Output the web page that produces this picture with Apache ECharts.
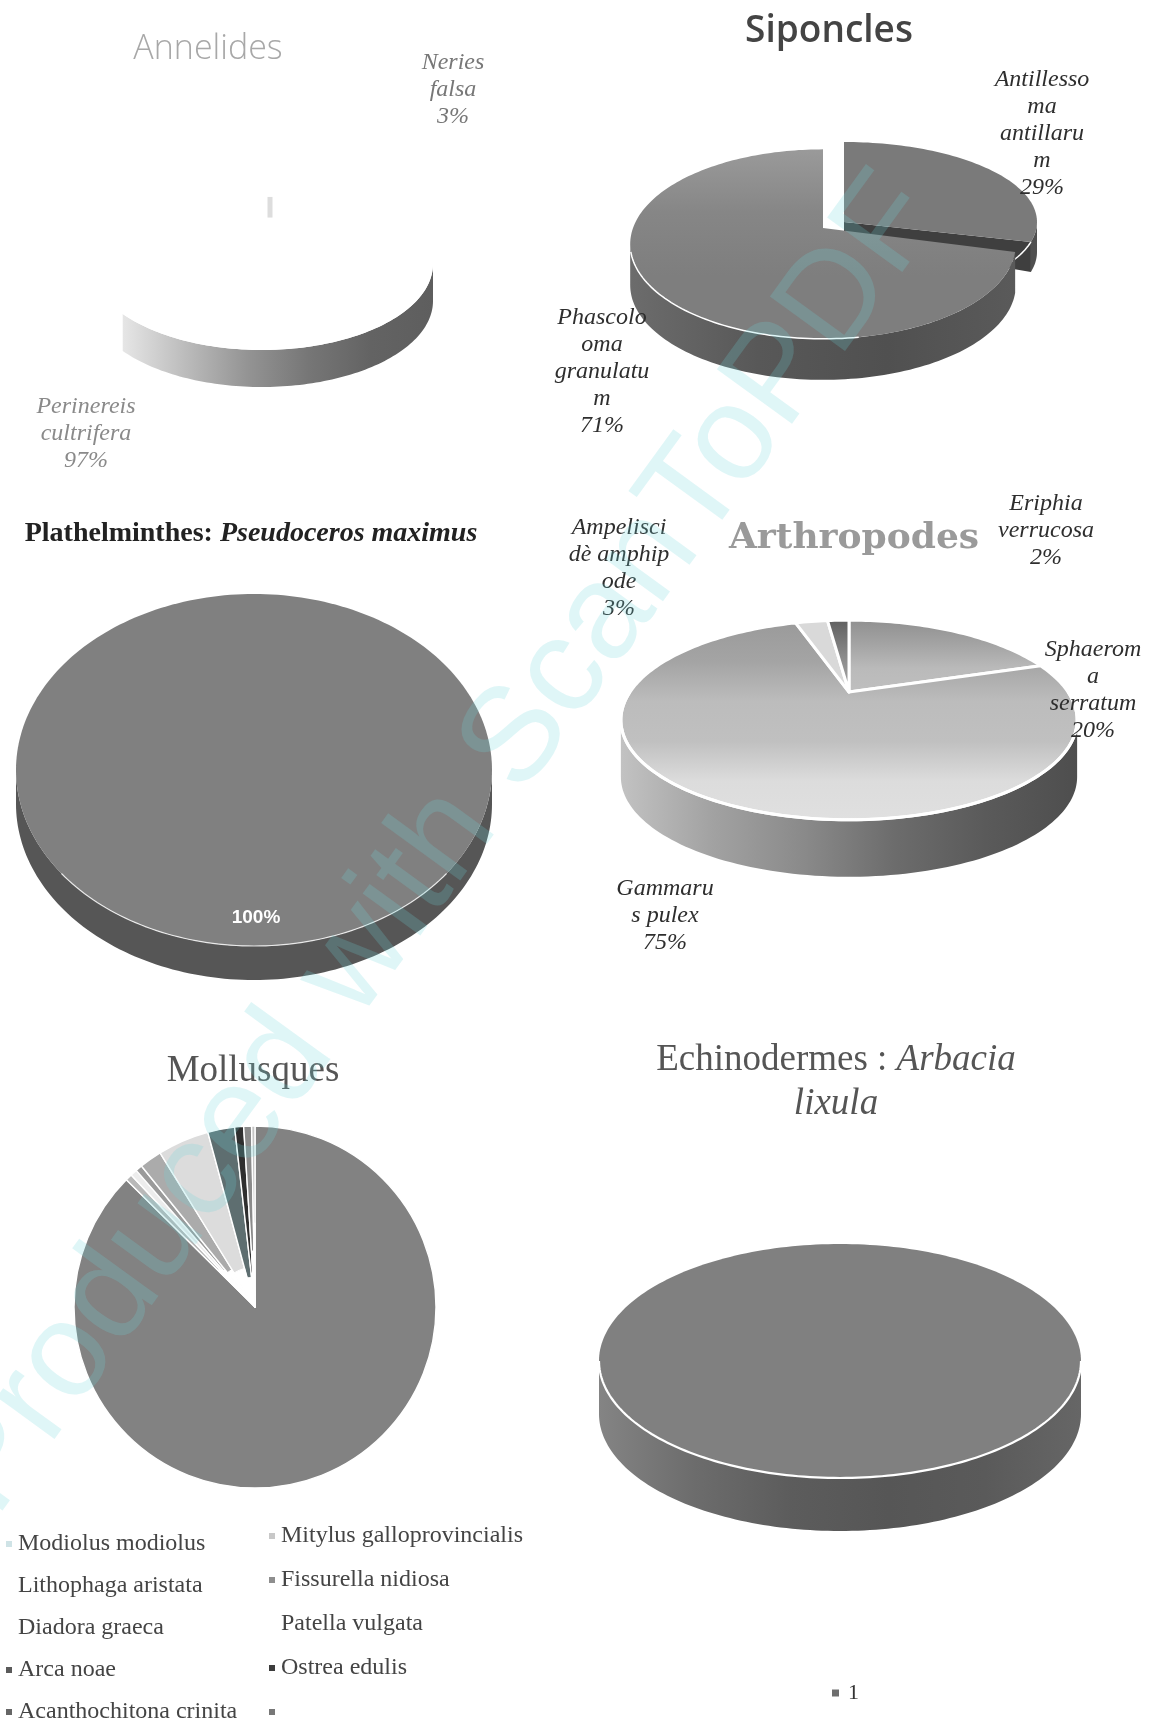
<!DOCTYPE html>
<html>
<head>
<meta charset="utf-8">
<title>Répartition des espèces par embranchement</title>
<style>html,body{margin:0;padding:0;background:#fff}#main{width:1160px;height:1725px}</style>
<script src="https://cdn.jsdelivr.net/npm/echarts@6/dist/echarts.min.js"></script>
</head>
<body>
<div id="main"></div>
<script>
// Species shares per phylum, in percent.
const annelidNames = ['Neries\nfalsa', 'Perinereis\ncultrifera'];
const annelidShares = [3, 97];
const sipunculidNames = ['Antillesso\nma\nantillaru\nm', 'Phascolo\noma\ngranulatu\nm'];
const sipunculidShares = [29, 71];
const flatwormShares = [100];
const arthropodNames = ['Sphaerom\na\nserratum', 'Gammaru\ns pulex', 'Ampelisci\ndè amphip\node', 'Eriphia\nverrucosa'];
const arthropodShares = [20, 75, 3, 2];
const echinodermShares = [1];
const molluscNames = ['Modiolus modiolus', 'Mitylus galloprovincialis', 'Lithophaga aristata', 'Fissurella nidiosa', 'Diadora graeca', 'Patella vulgata', 'Arca noae', 'Ostrea edulis', 'Acanthochitona crinita', ' '];
const molluscShares = [87.5, 0.6, 0.6, 0.6, 2, 4.6, 2.4, 0.8, 0.7, 0.3];

const SERIF = '"Liberation Serif", serif';
const TAU = Math.PI * 2;

function linear(vertical, stops) {
  return {
    type: 'linear', x: 0, y: 0, x2: vertical ? 0 : 1, y2: vertical ? 1 : 0,
    colorStops: stops.map((c, i) => ({ offset: i / (stops.length - 1), color: c }))
  };
}

// Rim point of a tilted disc: the hub stays at (x, y) and `lean` pushes it
// away from the middle of the ellipse, as a perspective view does.
function rimPoint(f, t, drop) {
  const d = 1 + f.lean * Math.cos(t);
  return [f.x + f.rx * Math.sin(t) / d, f.y - f.ry * Math.cos(t) / d + (drop || 0)];
}
function arc(f, t0, t1, drop) {
  const n = Math.max(2, Math.ceil(Math.abs(t1 - t0) / 0.025));
  const pts = [];
  for (let i = 0; i <= n; i++) pts.push(rimPoint(f, t0 + (t1 - t0) * i / n, drop));
  return pts;
}

// One tilted pie as a custom series: each datum draws its wall and top face.
function tiltedPie(name, values, cfg) {
  const total = values.reduce((a, b) => a + b, 0);
  const start = values.map((_, i) => values.slice(0, i).reduce((a, b) => a + b, 0) / total * TAU);
  return {
    type: 'custom', name, coordinateSystem: 'none', silent: true, animation: false,
    itemStyle: { color: cfg.keyColor || '#777' },
    data: values.map(v => [v]),
    renderItem(params, api) {
      const i = params.dataIndex;
      const f = (cfg.frames && cfg.frames[i]) || cfg.frame;
      const style = cfg.styles[i];
      const t0 = start[i];
      const t1 = t0 + api.value(0) / total * TAU;
      const children = [];
      // the outer wall only shows on the near side of the disc
      const side = Math.acos(-f.lean);
      const w0 = Math.max(t0, side);
      const w1 = Math.min(t1, cfg.wallEnd || TAU - side);
      if (style.wall && w1 > w0) {
        children.push({
          type: 'polygon',
          shape: { points: arc(f, w0, w1, 0).concat(arc(f, w1, w0, f.depth)) },
          style: { fill: style.wall }
        });
      }
      if (style.cut) {
        const end = rimPoint(f, t1);
        children.push({
          type: 'polygon',
          shape: { points: [[f.x, f.y], end, [end[0], end[1] + f.depth], [f.x, f.y + f.depth * 0.6]] },
          style: { fill: style.cut }
        });
      }
      const face = (t1 - t0 >= TAU - 1e-6) ? arc(f, 0, TAU) : [[f.x, f.y]].concat(arc(f, t0, t1));
      children.push({
        type: 'polygon', shape: { points: face },
        style: { fill: style.top, stroke: cfg.seam ? '#fff' : null, lineWidth: cfg.seam || 0, lineJoin: 'round' }
      });
      if (style.seamMark) {
        // the faint stub of the seam that survives on an otherwise white top face
        const m = style.seamMark;
        const mx = f.x + m.dx;
        children.push({
          type: 'line', z2: 10,
          shape: { x1: mx, y1: f.y - f.ry * m.to, x2: mx, y2: f.y - f.ry * m.from },
          style: { stroke: '#dddddd', lineWidth: 5 }
        });
      }
      if (cfg.rim && t1 > Math.PI / 2 && t0 < Math.PI * 1.5) {
        children.push({
          type: 'polyline',
          shape: { points: arc(f, Math.max(t0, cfg.rim.from), Math.min(t1, cfg.rim.to)) },
          style: { fill: null, stroke: '#fff', lineWidth: cfg.rim.width, opacity: cfg.rim.opacity || 1 }
        });
      }
      if (cfg.labels && cfg.labels[i]) {
        const l = cfg.labels[i];
        children.push({
          type: 'text', z2: 50,
          style: {
            x: l.x, y: l.y, text: l.text, align: 'center', verticalAlign: 'middle',
            font: l.font || ('italic 24px ' + SERIF), lineHeight: l.step || 27, fill: l.color || '#2e2e2e'
          }
        });
      }
      return { type: 'group', children };
    }
  };
}

const label = (names, values, i, pos) => Object.assign({ text: names[i] + '\n' + values[i] + '%' }, pos);

const series = [
  tiltedPie('Annelides', annelidShares, {
    frame: { x: 262, y: 264, rx: 171, ry: 86, lean: 0, depth: 37 },
    wallEnd: Math.PI * 1.303,
    styles: [
      { top: '#ffffff', seamMark: { dx: 8, from: 0.54, to: 0.78 } },
      { top: '#ffffff', wall: linear(false, ['#e6e6e6', '#bcbcbc', '#949494', '#767676', '#636363', '#5e5e5e']) }
    ],
    labels: [
      label(annelidNames, annelidShares, 0, { x: 453, y: 90, color: '#777' }),
      label(annelidNames, annelidShares, 1, { x: 86, y: 434, color: '#8a8a8a' })
    ]
  }),
  tiltedPie('Siponcles', sipunculidShares, {
    frames: [
      { x: 844, y: 222, rx: 193, ry: 80, lean: 0, depth: 30 },
      { x: 823, y: 228, rx: 190, ry: 92, lean: 0.17, depth: 41 }
    ],
    rim: { from: Math.PI * 0.95, to: Math.PI * 1.42, width: 1.5 },
    styles: [
      { top: '#7a7a7a', wall: '#505050', cut: '#3f3f3f' },
      { top: linear(true, ['#9a9a9a', '#868686', '#7e7e7e', '#7e7e7e']), wall: linear(false, ['#6c6c6c', '#585858', '#505050', '#5a5a5a']) }
    ],
    labels: [
      label(sipunculidNames, sipunculidShares, 0, { x: 1042, y: 134 }),
      label(sipunculidNames, sipunculidShares, 1, { x: 602, y: 372 })
    ]
  }),
  tiltedPie('Pseudoceros maximus', flatwormShares, {
    frame: { x: 254, y: 770, rx: 238, ry: 176, lean: 0, depth: 34 },
    rim: { from: Math.PI * 0.7, to: Math.PI * 1.3, width: 1.2, opacity: 0.8 },
    styles: [{ top: '#808080', wall: '#565656' }],
    labels: [{ x: 256, y: 918, text: flatwormShares[0] + '%', font: 'bold 19px "Liberation Sans", sans-serif', color: '#fff', step: 20 }]
  }),
  tiltedPie('Arthropodes', arthropodShares, {
    frame: { x: 849, y: 692, rx: 219, ry: 92, lean: 0.28, depth: 57 },
    seam: 3,
    rim: { from: Math.PI * 0.5, to: Math.PI * 1.5, width: 3 },
    styles: [
      { top: linear(true, ['#8f8f8f', '#a3a3a3', '#bababa', '#bfbfbf']) },
      { top: linear(true, ['#9a9a9a', '#a4a4a4', '#bcbcbc', '#c0c0c0', '#dcdcdc', '#e0e0e0']), wall: linear(false, ['#c2c2c2', '#a2a2a2', '#8a8a8a', '#6c6c6c', '#5a5a5a', '#4e4e4e']) },
      { top: '#d9d9d9' },
      { top: linear(true, ['#5e5e5e', '#8a8a8a', '#a8a8a8']) }
    ],
    labels: [
      label(arthropodNames, arthropodShares, 0, { x: 1093, y: 690, step: 27 }),
      label(arthropodNames, arthropodShares, 1, { x: 665, y: 916 }),
      label(arthropodNames, arthropodShares, 2, { x: 619, y: 568 }),
      label(arthropodNames, arthropodShares, 3, { x: 1046, y: 531 })
    ]
  }),
  tiltedPie('1', echinodermShares, {
    frame: { x: 840, y: 1361, rx: 241, ry: 117, lean: 0, depth: 53 },
    keyColor: '#6e6e6e',
    rim: { from: Math.PI * 0.5, to: Math.PI * 1.5, width: 2.2 },
    styles: [{ top: '#808080', wall: linear(false, ['#848484', '#6c6c6c', '#5c5c5c', '#565656', '#5a5a5a', '#666666']) }]
  }),
  // Mollusques: a true round pie, its smaller slices pulled back from the hub
  {
    type: 'pie', name: 'Mollusques', silent: true, animation: false,
    center: [255, 1307], radius: [0, 181], startAngle: 90, clockwise: true,
    label: { show: false }, labelLine: { show: false },
    itemStyle: { borderColor: '#fff', borderWidth: 1.4 },
    data: molluscNames.map((name, i) => ({
      name, value: molluscShares[i],
      itemStyle: { color: ['#828282', '#b8b8b8', '#ececec', '#9a9a9a', '#ababab', '#dcdcdc', '#5e6e70', '#2f2f2f', '#8a8a8a', '#c4c4c4'][i] }
    }))
  },
  {
    type: 'custom', name: 'Mollusques hub', coordinateSystem: 'none', silent: true, animation: false, z: 3,
    data: molluscShares.map(v => [v]),
    renderItem(params, api) {
      const i = params.dataIndex;
      const hub = [0, 52, 50, 48, 44, 40, 30, 34, 56, 84][i];
      if (!hub) return null;
      const total = molluscShares.reduce((a, b) => a + b, 0);
      const before = molluscShares.slice(0, i).reduce((a, b) => a + b, 0);
      const a0 = before / total * TAU - Math.PI / 2;
      return {
        type: 'sector',
        shape: { cx: 255, cy: 1307, r: hub, r0: 0, startAngle: a0, endAngle: a0 + api.value(0) / total * TAU, clockwise: true },
        style: { fill: '#fff', stroke: '#fff', lineWidth: 1 }
      };
    }
  }
];

const keyText = { fontFamily: SERIF, fontSize: 24, color: '#444', padding: [0, 0, 0, 1] };
const keyIcon = color => ({ itemStyle: { color, borderWidth: 0 } });
const legendBase = {
  orient: 'vertical', icon: 'rect', itemWidth: 6, itemHeight: 6, padding: 0,
  selectedMode: false, textStyle: keyText
};
const keyColors = ['#cfe3e6', '#c8c8c8', '#ffffff', '#8e8e8e', '#ffffff', '#ffffff', '#5a5a5a', '#3c3c3c', '#666666', '#777777'];
const keyEntries = molluscNames.map((name, i) => Object.assign({ name }, keyIcon(keyColors[i])));

const titleAt = (text, x, y, textStyle) => ({ text, left: x, top: y, textAlign: 'center', textVerticalAlign: 'middle', padding: 0, textStyle });

const option = {
  backgroundColor: '#fff',
  animation: false,
  title: [
    titleAt('Annelides', 208, 49, { fontFamily: '"Open Sans", sans-serif', fontWeight: 300, fontSize: 34, color: '#a8a8a8' }),
    titleAt('Siponcles', 829, 31, { fontFamily: '"Open Sans", sans-serif', fontWeight: 600, fontSize: 37, color: '#444' }),
    titleAt('{b|Plathelminthes: }{i|Pseudoceros maximus}', 251, 534, {
      rich: {
        b: { fontFamily: SERIF, fontWeight: 'bold', fontSize: 28, color: '#222' },
        i: { fontFamily: SERIF, fontWeight: 'bold', fontStyle: 'italic', fontSize: 28, color: '#222' }
      }
    }),
    titleAt('Arthropodes', 854, 539, { fontFamily: '"DejaVu Serif", serif', fontWeight: 'bold', fontSize: 36, color: '#9a9a9a' }),
    titleAt('Mollusques', 253, 1071, { fontFamily: SERIF, fontWeight: 'normal', fontSize: 37, color: '#555' }),
    titleAt('{r|Echinodermes : }{i|Arbacia}', 836, 1060, {
      fontWeight: 'normal',
      rich: {
        r: { fontFamily: SERIF, fontWeight: 'normal', fontSize: 37, color: '#555' },
        i: { fontFamily: SERIF, fontWeight: 'normal', fontStyle: 'italic', fontSize: 37, color: '#555' }
      }
    }),
    titleAt('lixula', 836, 1104, { fontFamily: SERIF, fontStyle: 'italic', fontWeight: 'normal', fontSize: 37, color: '#555' })
  ],
  legend: [
    Object.assign({}, legendBase, { left: 6, top: 1532, itemGap: 18, data: keyEntries.filter((_, i) => i % 2 === 0) }),
    Object.assign({}, legendBase, { left: 269, top: 1524, itemGap: 20, data: keyEntries.filter((_, i) => i % 2 === 1) }),
    { data: ['1'], orient: 'horizontal', icon: 'rect', itemWidth: 7, itemHeight: 7, itemGap: 4, padding: 0, left: 832, top: 1682, selectedMode: false, textStyle: { fontFamily: SERIF, fontSize: 22, color: '#333', padding: [0, 0, 0, 4] } }
  ],
  series,
  // page-wide diagonal stamp left by the scanning software
  graphic: [{
    type: 'text', silent: true, z: 1000, x: 440, y: 845, rotation: 54 * Math.PI / 180,
    style: {
      text: 'Produced with ScanToPDF', x: 0, y: 0, align: 'center', verticalAlign: 'middle',
      font: '135px "Liberation Sans", sans-serif', fill: 'rgba(110,215,220,0.22)'
    }
  }]
};

const chart = echarts.init(document.getElementById('main'), null, { renderer: 'canvas' });
chart.setOption(option);
</script>
</body>
</html>
